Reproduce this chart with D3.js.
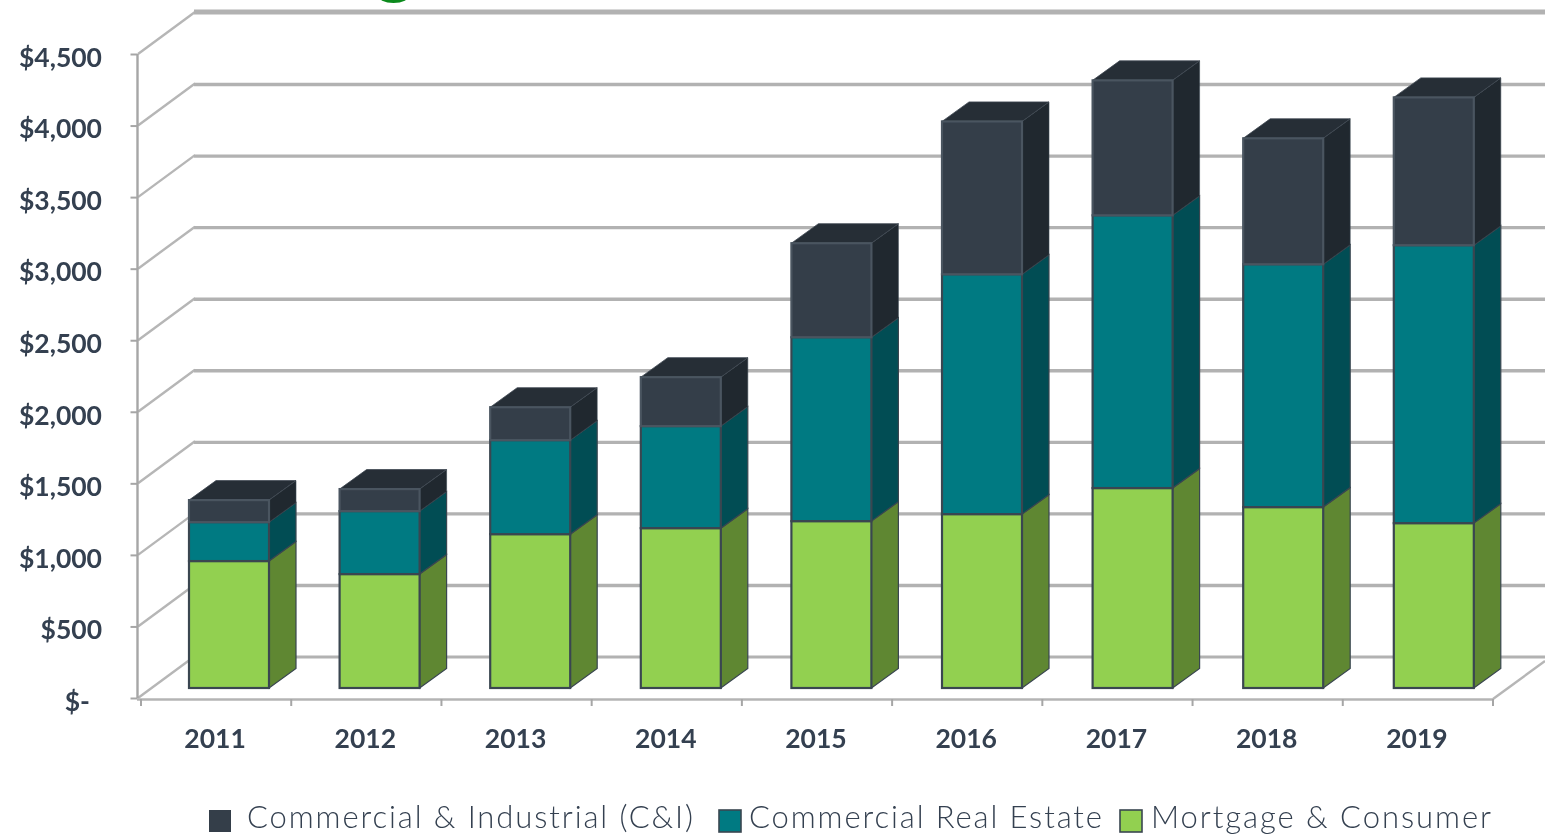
<!DOCTYPE html>
<html><head><meta charset="utf-8">
<script src="https://cdn.jsdelivr.net/npm/d3@7/dist/d3.min.js"></script>
<style>
html,body{margin:0;padding:0;background:#fff;overflow:hidden}
svg{display:block;filter:blur(0.45px)}
</style></head><body>
<svg id="c" width="1545" height="835"></svg>
<script>
const years=["2011","2012","2013","2014","2015","2016","2017","2018","2019"];
const mortgage=[887,796,1075,1117,1166,1215,1397,1264,1152];
const commercialRealEstate=[272,440,657,713,1285,1676,1906,1697,1942];
const commercialIndustrial=[154,154,230,342,657,1068,943,880,1033];
const tickValues=[0,500,1000,1500,2000,2500,3000,3500,4000,4500];
const tickLabels=["$-","$500","$1,000","$1,500","$2,000","$2,500","$3,000","$3,500","$4,000","$4,500"];
const seriesNames=["Mortgage & Consumer","Commercial Real Estate","Commercial & Industrial (C&I)"];
const frontColors=["#92d050","#007a82","#343e49"];
const sideColors=["#5f8732","#014d54","#20282f"];
const topColors=["#5f8732","#014d54","#262e36"];

const svg=d3.select("#c");
const fontFam="Lato,'Noto Sans',sans-serif", ink="#344050", gridC="#b2b2b2";
const y=d3.scaleLinear().domain([0,4500]).range([698,54]);
const x=d3.scaleBand().domain(years).range([141,1493]);
const xBar=d3.scaleBand().domain(years).range([153.7,1509.1]);
const wallDx=55, wallDy=41;
const barDx=27, barDy=19.5, barLift=10, barW=80;
const xAll=x.bandwidth();

// gridlines on back wall, side wall
const grid=svg.append("g");
tickValues.forEach(v=>{
  const yy=y(v), last=v===4500;
  grid.append("line").attr("x1",138).attr("y1",yy).attr("x2",137+wallDx+3).attr("y2",yy-wallDy-1)
    .attr("stroke","#b6b6b6").attr("stroke-width",2.4);
  if(v>0) grid.append("line").attr("x1",137+wallDx+2).attr("x2",1545).attr("y1",yy-wallDy-(last?1:0)).attr("y2",yy-wallDy-(last?1:0))
    .attr("stroke",gridC).attr("stroke-width",last?5:3.4);
});
grid.append("line").attr("x1",196).attr("x2",1545).attr("y1",y(0)-wallDy).attr("y2",y(0)-wallDy).attr("stroke",gridC).attr("stroke-width",3);
grid.append("line").attr("x1",1493).attr("y1",699).attr("x2",1545).attr("y2",661).attr("stroke","#b6b6b6").attr("stroke-width",2.4);

// green remnant at top edge
svg.append("ellipse").attr("cx",393.5).attr("cy",-5).attr("rx",16).attr("ry",8).attr("fill","#0b8a1c");

// bars
const stack=d3.stack().keys([0,1,2]).value((d,k)=>d[k]);
const rows=years.map((yr,i)=>{const r=[mortgage[i],commercialRealEstate[i],commercialIndustrial[i]];r.year=yr;return r;});
const layers=stack(rows);
const by=v=>y(v)-barLift;
const bars=svg.append("g");
layers.forEach((layer,s)=>{
  const g=bars.append("g");
  layer.forEach((d,i)=>{
    const yr=years[i];
    const x0=xBar(yr)+xBar.bandwidth()/2-barW/2, x1=x0+barW;
    const yb=by(d[0]), yt=by(d[1]);
    g.append("path").attr("d",`M${x1},${yb}L${x1+barDx},${yb-barDy}L${x1+barDx},${yt-barDy}L${x1},${yt}Z`)
      .attr("fill",sideColors[s]).attr("stroke","#3a4650").attr("stroke-width",s===2?0.6:1.2);
    if(s===2) g.append("path").attr("d",`M${x0},${yt}L${x0+barDx},${yt-barDy}L${x1+barDx},${yt-barDy}L${x1},${yt}Z`)
      .attr("fill",topColors[s]).attr("stroke","#3d4650").attr("stroke-width",0.8);
    g.append("rect").attr("x",x0).attr("y",yt).attr("width",barW).attr("height",yb-yt)
      .attr("fill",frontColors[s]).attr("stroke",s===2?"#4a5560":"#3a4650").attr("stroke-width",2.2);
  });
});

// axes
const axes=svg.append("g");
const yAxis=d3.axisLeft(y).tickValues(tickValues).tickSize(7).tickFormat("");
axes.append("g").attr("transform","translate(137.5,0)").call(yAxis)
  .call(g=>{g.selectAll("line").attr("stroke","#a6a6a6").attr("stroke-width",2);g.select(".domain").attr("stroke","#a6a6a6").attr("stroke-width",2.4).attr("d","M0,54V698");});
const xTickPos=years.map(d=>x(d)).concat([x.range()[1]]);
axes.append("line").attr("x1",137).attr("x2",1493).attr("y1",699.5).attr("y2",699.5).attr("stroke","#b4b4b4").attr("stroke-width",2.4);
axes.selectAll(".xt").data(xTickPos).join("line").attr("x1",d=>d).attr("x2",d=>d).attr("y1",699).attr("y2",706)
  .attr("stroke","#a6a6a6").attr("stroke-width",2);

const lab=svg.append("g").attr("font-family",fontFam).attr("font-weight",700).attr("font-size",26.5).attr("fill",ink);
lab.selectAll(".yl").data(tickValues).join("text").attr("x",(d,i)=>i===0?90:102)
  .attr("y",d=>y(d)+12.8).attr("text-anchor","end").text((d,i)=>tickLabels[i]);
lab.selectAll(".xl").data(years).join("text").attr("x",d=>x(d)+xAll/2-1).attr("y",747.5)
  .attr("text-anchor","middle").text(d=>d);

// legend
const legendItems=[[2,209,247,446],[1,719,749,353],[0,1120,1151,340]];
const leg=svg.append("g");
legendItems.forEach(([s,bx,tx,tw])=>{
  leg.append("rect").attr("x",bx).attr("y",810).attr("width",22).attr("height",22)
    .attr("fill",frontColors[s]).attr("stroke",s===2?"none":"#3a4650").attr("stroke-width",1.6);
  leg.append("text").attr("x",tx).attr("y",828).attr("font-family",fontFam).attr("font-weight",300)
    .attr("font-size",31).attr("fill",ink).attr("textLength",tw).attr("lengthAdjust","spacing").text(seriesNames[s]);
});
</script></body></html>
